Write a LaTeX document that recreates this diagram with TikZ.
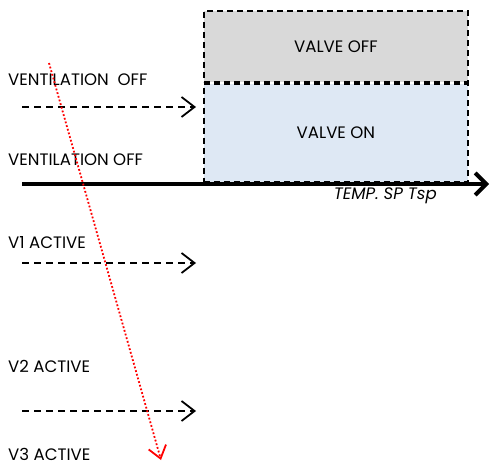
\documentclass[tikz,border=0pt]{standalone}
\usepackage{fontspec}
\setmainfont{Poppins}
\usetikzlibrary{arrows.meta,positioning}
\definecolor{offgray}{HTML}{D9D9D9}
\definecolor{onblue}{HTML}{DEE8F4}

\begin{document}
\begin{tikzpicture}[%
      x=1pt, y=-1pt,                          % one unit per pixel, y going down
      >={Straight Barb[length=13pt,width=20pt]},
      font=\fontsize{16.6}{18}\selectfont,
      ]
  \tikzset{
    lbl/.style={anchor=west, inner sep=0pt},
    zone/.style={draw, dash pattern=on 6pt off 4pt, line width=1.8pt, minimum width=264pt, inner sep=0pt},
    flow/.style={->, dash pattern=on 7pt off 5pt, line width=1.8pt},
    axis/.style={->, line width=4pt, >={Straight Barb[length=11pt,width=22pt]}},
    trend/.style={->, red, dotted, line width=1.8pt, >={Straight Barb[length=12pt,width=18pt]}},
  }
  \useasboundingbox (0,0) rectangle (490,465);

  % Valve zones
  \node [zone, fill=offgray, minimum height=71pt, anchor=north west] (off) at (203,10) {VALVE OFF};
  \node [zone, fill=onblue, minimum height=98pt, anchor=north]       (on)  at (off.south) {VALVE ON};

  % Temperature axis
  \coordinate (ax0) at (22,184);
  \coordinate (ax1) at (489,184);
  \draw [axis] (ax0) -- (ax1);
  \node [anchor=north east, inner sep=0pt, font=\fontsize{16.6}{18}\selectfont\itshape] (tsp) at (437,188) {TEMP. SP Tsp};

  % Labels on the left
  \node [lbl] (v0a) at (8,80)  {VENTILATION\ \ OFF};
  \node [lbl] (v0b) at (8,160) {VENTILATION OFF};
  \node [lbl] (v1)  at (8,243) {V1 ACTIVE};
  \node [lbl] (v2)  at (8,366) {V2 ACTIVE};
  \node [lbl] (v3)  at (8,454) {V3 ACTIVE};

  % Step arrows
  \coordinate (s0) at (22,107);  \coordinate (e0) at (196,107);
  \coordinate (s1) at (22,263);  \coordinate (e1) at (196,263);
  \coordinate (s2) at (22,411);  \coordinate (e2) at (196,411);
  \draw [flow] (s0) -- (e0);
  \draw [flow] (s1) -- (e1);
  \draw [flow] (s2) -- (e2);

  % Trend
  \coordinate (t0) at (49,63);
  \coordinate (t1) at (161,460);
  \draw [trend] (t0) -- (t1);

\end{tikzpicture}
\end{document}
